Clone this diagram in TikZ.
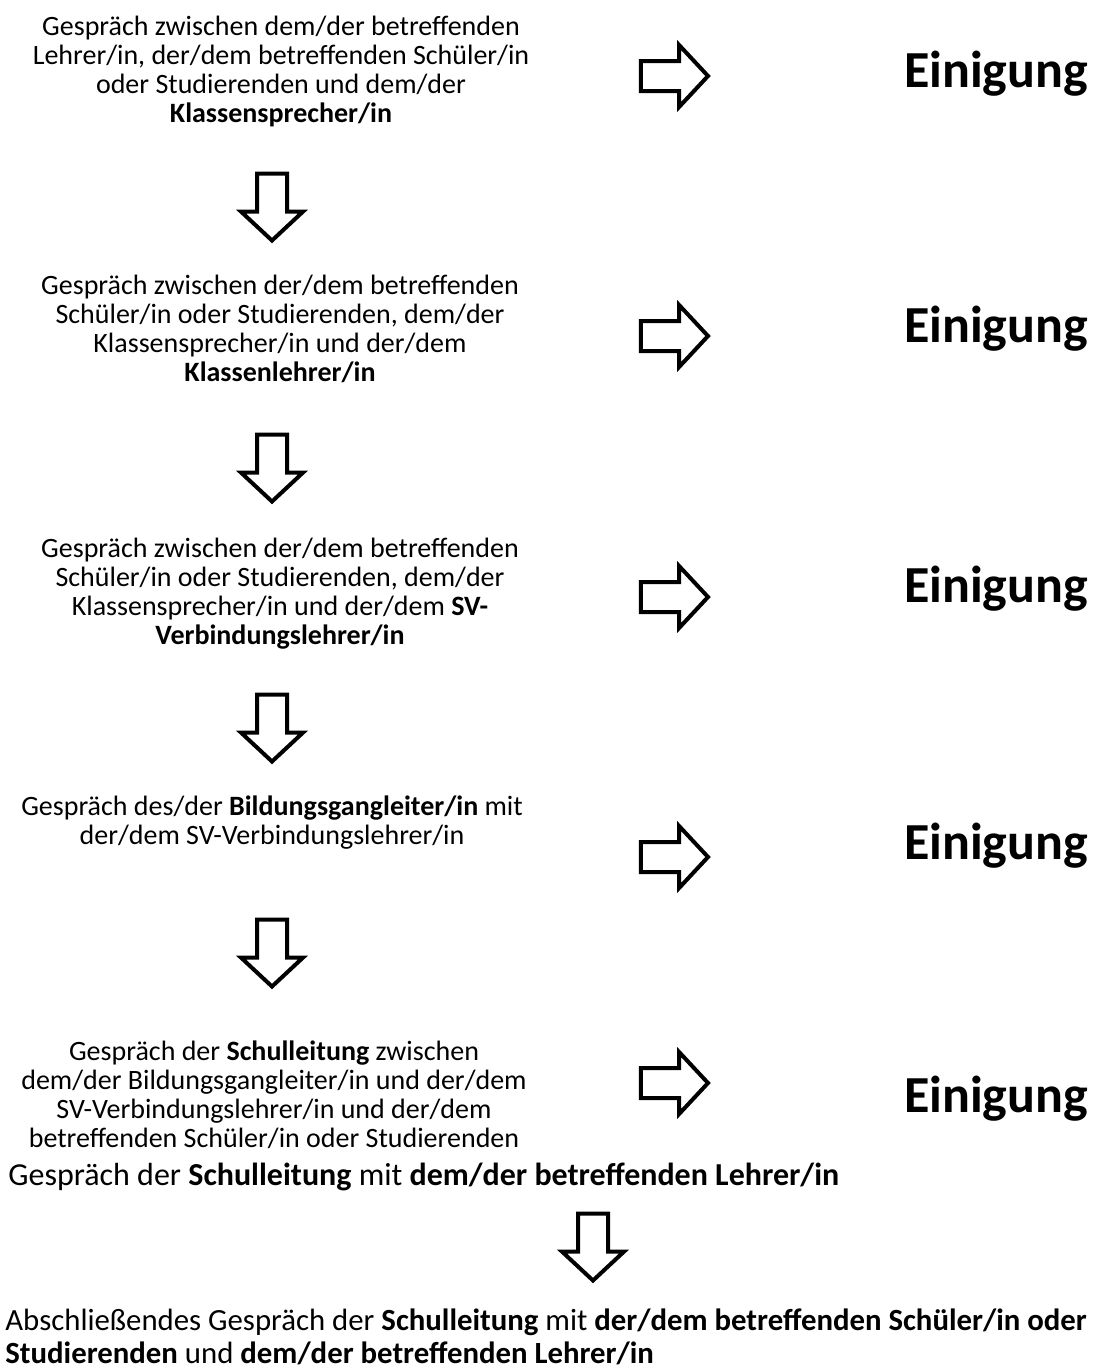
\documentclass[tikz,border=0pt]{standalone}
\usepackage{fontspec}
\setmainfont{Carlito}
\usetikzlibrary{shapes.arrows}

\begin{document}
\begin{tikzpicture}[x=0.5pt, y=-0.5pt,
    talk/.style={align=center, inner sep=0pt, font=\fontsize{14}{14.5}\selectfont},
    talkwide/.style={align=left, inner sep=0pt, font=\fontsize{16}{16.5}\selectfont},
    agree/.style={inner sep=0pt, font=\fontsize{26}{30}\selectfont\bfseries},
    blockarr/.style={single arrow, draw, line width=2pt, inner xsep=0pt, inner ysep=6.5pt,
      minimum width=0pt, minimum height=33.5pt, single arrow head extend=8pt,
      single arrow tip angle=94},
    downarr/.style={blockarr, rotate=-90}
  ]
  \useasboundingbox (0,0) rectangle (1096,1372);

  % steps on the left
  \node[talk] (talk1) at (281,71) {Gespräch zwischen dem/der betreffenden\\Lehrer/in, der/dem betreffenden Schüler/in\\oder Studierenden und dem/der\\\textbf{Klassensprecher/in}};
  \node[talk] (talk2) at (280,329) {Gespräch zwischen der/dem betreffenden\\Schüler/in oder Studierenden, dem/der\\Klassensprecher/in und der/dem\\\textbf{Klassenlehrer/in}};
  \node[talk] (talk3) at (280,594) {Gespräch zwischen der/dem betreffenden\\Schüler/in oder Studierenden, dem/der\\Klassensprecher/in und der/dem \textbf{SV-}\\\textbf{Verbindungslehrer/in}};
  \node[talk] (talk4) at (272,823) {Gespräch des/der \textbf{Bildungsgangleiter/in} mit\\der/dem SV-Verbindungslehrer/in};
  \node[talk] (talk5) at (274,1095) {Gespräch der \textbf{Schulleitung} zwischen\\dem/der Bildungsgangleiter/in und der/dem\\SV-Verbindungslehrer/in und der/dem\\betreffenden Schüler/in oder Studierenden};
  \node[talkwide, anchor=west] (talk6) at (8,1177) {Gespräch der \textbf{Schulleitung} mit \textbf{dem/der betreffenden Lehrer/in}};
  \node[talkwide, anchor=west, font=\fontsize{15.4}{16.5}\selectfont] (final) at (5,1337) {Abschließendes Gespräch der \textbf{Schulleitung} mit \textbf{der/dem betreffenden Schüler/in oder}\\\textbf{Studierenden} und \textbf{dem/der betreffenden Lehrer/in}};

  % results on the right
  \node[agree, anchor=base] (agree1) at (996,87) {Einigung};
  \node[agree, anchor=base] (agree2) at (996,342) {Einigung};
  \node[agree, anchor=base] (agree3) at (996,602) {Einigung};
  \node[agree, anchor=base] (agree4) at (996,859) {Einigung};
  \node[agree, anchor=base] (agree5) at (996,1112) {Einigung};

  % block arrows
  \node[blockarr] (right1) at (667.5,76) {};
  \node[blockarr] (right2) at (667.5,336) {};
  \node[blockarr] (right3) at (667.5,597) {};
  \node[blockarr] (right4) at (667.5,857) {};
  \node[blockarr] (right5) at (667.5,1083) {};

  \node[downarr] (down1) at (272,200) {};
  \node[downarr] (down2) at (272,461) {};
  \node[downarr] (down3) at (272,721) {};
  \node[downarr] (down4) at (272,946) {};
  \node[downarr] (down5) at (593,1240) {};
\end{tikzpicture}
\end{document}
